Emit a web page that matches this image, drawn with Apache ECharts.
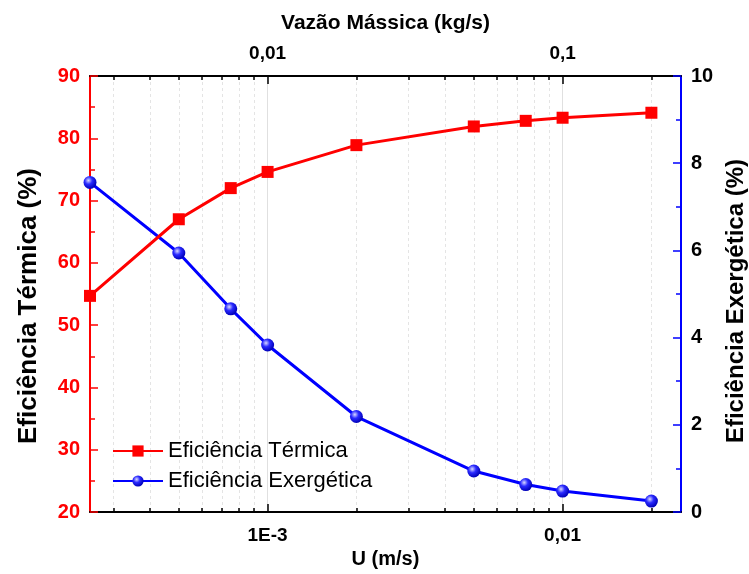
<!DOCTYPE html>
<html>
<head>
<meta charset="utf-8">
<script src="https://cdn.jsdelivr.net/npm/echarts@6/dist/echarts.min.js"></script>
<style>
html,body{margin:0;padding:0;background:#fff;overflow:hidden;}
#chart{width:749px;height:574px;}
</style>
</head>
<body>
<div id="chart"></div>
<script>
// ---- data ----
const uValues = [2.5e-4, 5e-4, 7.5e-4, 1e-3, 2e-3, 5e-3, 7.5e-3, 1e-2, 2e-2];   // U (m/s)
const thermalEff = [54.7, 67.0, 72.0, 74.6, 78.9, 81.9, 82.8, 83.3, 84.1];    // %
const exergeticEff = [7.56, 5.94, 4.66, 3.83, 2.19, 0.94, 0.63, 0.48, 0.25];  // %
const xRange = [2.5e-4, 0.0252];                 // U axis extent
const majorTicks = [1e-3, 1e-2];                 // U major ticks
const bottomTickLabels = ['1E-3', '0,01'];
const topTickLabels = ['0,01', '0,1'];           // mass flow (kg/s) at the same positions
const minorTicks = [3e-4, 4e-4, 5e-4, 6e-4, 7e-4, 8e-4, 9e-4,
                    2e-3, 3e-3, 4e-3, 5e-3, 6e-3, 7e-3, 8e-3, 9e-3, 2e-2];
const seriesNames = ['Eficiência Térmica', 'Eficiência Exergética'];

const L = v => Math.log10(v);
const xMin = L(xRange[0]), xMax = L(xRange[1]);
const majorLog = majorTicks.map(L);
const minorLog = minorTicks.map(L);

function labelFor(list) {
  return function (v) {
    for (let i = 0; i < majorLog.length; i++) {
      if (Math.abs(v - majorLog[i]) < 1e-6) return list[i];
    }
    return '';
  };
}

const font = "'Liberation Sans', Arial, sans-serif";

function xAxis(pos, major, labels, name) {
  const ax = {
    type: 'value', position: pos, min: xMin, max: xMax,
    axisLine: { show: major, onZero: false, lineStyle: { color: '#000', width: 2 } },
    axisTick: { show: true, inside: true, length: major ? 8 : 4,
      customValues: major ? majorLog : minorLog,
      lineStyle: { color: '#000', width: 1.5 } },
    axisLabel: { show: major, customValues: majorLog, formatter: labelFor(labels || []),
      color: '#000', fontWeight: 'bold', fontSize: 19, fontFamily: font, margin: pos === 'top' ? 13 : 14 },
    splitLine: major
      ? { show: true, lineStyle: { color: '#e0e0e0', width: 1, type: 'solid' } }
      : { show: true, lineStyle: { color: '#e4e4e4', width: 1, type: [3, 3] } },
    minorTick: { show: false }
  };
  if (name) {
    ax.name = name;
    ax.nameLocation = 'middle';
    ax.nameGap = pos === 'top' ? 42 : 36;
    ax.nameTextStyle = { color: '#000', fontWeight: 'bold', fontSize: pos === 'top' ? 21 : 20, fontFamily: font };
  }
  return ax;
}

const chart = echarts.init(document.getElementById('chart'), null, { renderer: 'canvas' });

const option = {
  animation: false,
  backgroundColor: '#fff',
  grid: { left: 90, right: 68, top: 76, bottom: 62, containLabel: false, outerBoundsMode: 'none' },
  legend: {
    data: seriesNames,
    orient: 'vertical', left: 107, top: 435,
    itemWidth: 50, itemHeight: 14, itemGap: 8,
    textStyle: { color: '#000', fontSize: 22, fontFamily: font }
  },
  xAxis: [
    xAxis('bottom', true, bottomTickLabels, 'U (m/s)'),
    xAxis('bottom', false),
    xAxis('top', true, topTickLabels, 'Vazão Mássica (kg/s)'),
    xAxis('top', false)
  ],
  yAxis: [
    {
      type: 'value', position: 'left', min: 20, max: 90, interval: 10,
      axisLine: { show: true, lineStyle: { color: '#ff0000', width: 2 } },
      axisTick: { show: true, inside: true, length: 8, lineStyle: { color: '#ff0000', width: 1.5 } },
      minorTick: { show: true, splitNumber: 2, length: 5, lineStyle: { color: '#ff0000', width: 1.5 } },
      axisLabel: { color: '#ff0000', fontWeight: 'bold', fontSize: 20, fontFamily: font, margin: 10 },
      splitLine: { show: false },
      name: 'Eficiência Térmica (%)', nameLocation: 'middle', nameGap: 48, nameRotate: 90,
      nameTextStyle: { color: '#000', fontWeight: 'bold', fontSize: 26, fontFamily: font,
        padding: [0, 24, 0, 0] }
    },
    {
      type: 'value', position: 'right', min: 0, max: 10, interval: 2,
      axisLine: { show: true, lineStyle: { color: '#0000ff', width: 2 } },
      axisTick: { show: true, inside: true, length: 8, lineStyle: { color: '#0000ff', width: 1.5 } },
      minorTick: { show: true, splitNumber: 2, length: 5, lineStyle: { color: '#0000ff', width: 1.5 } },
      axisLabel: { color: '#000', fontWeight: 'bold', fontSize: 20, fontFamily: font, margin: 10 },
      splitLine: { show: false },
      name: 'Eficiência Exergética (%)', nameLocation: 'middle', nameGap: 32, nameRotate: 90,
      nameTextStyle: { color: '#000', fontWeight: 'bold', fontSize: 24, fontFamily: font,
        padding: [0, 14, 0, 0] }
    }
  ],
  series: [
    {
      name: seriesNames[0], type: 'line', xAxisIndex: 0, yAxisIndex: 0, z: 4,
      data: uValues.map((u, i) => [L(u), thermalEff[i]]),
      symbol: 'rect', symbolSize: 12,
      lineStyle: { color: '#ff0000', width: 3 },
      itemStyle: { color: '#ff0000' }
    },
    {
      name: seriesNames[1], type: 'line', xAxisIndex: 0, yAxisIndex: 1, z: 3,
      data: uValues.map((u, i) => [L(u), exergeticEff[i]]),
      symbol: 'circle', symbolSize: 13,
      lineStyle: { color: '#0000ff', width: 3 },
      itemStyle: {
        color: { type: 'radial', x: 0.38, y: 0.35, r: 0.65,
          colorStops: [
            { offset: 0, color: '#d8d8ff' },
            { offset: 0.45, color: '#2a2aff' },
            { offset: 1, color: '#0000b8' }
          ] }
      }
    }
  ]
};
chart.setOption(option);
</script>
</body>
</html>
